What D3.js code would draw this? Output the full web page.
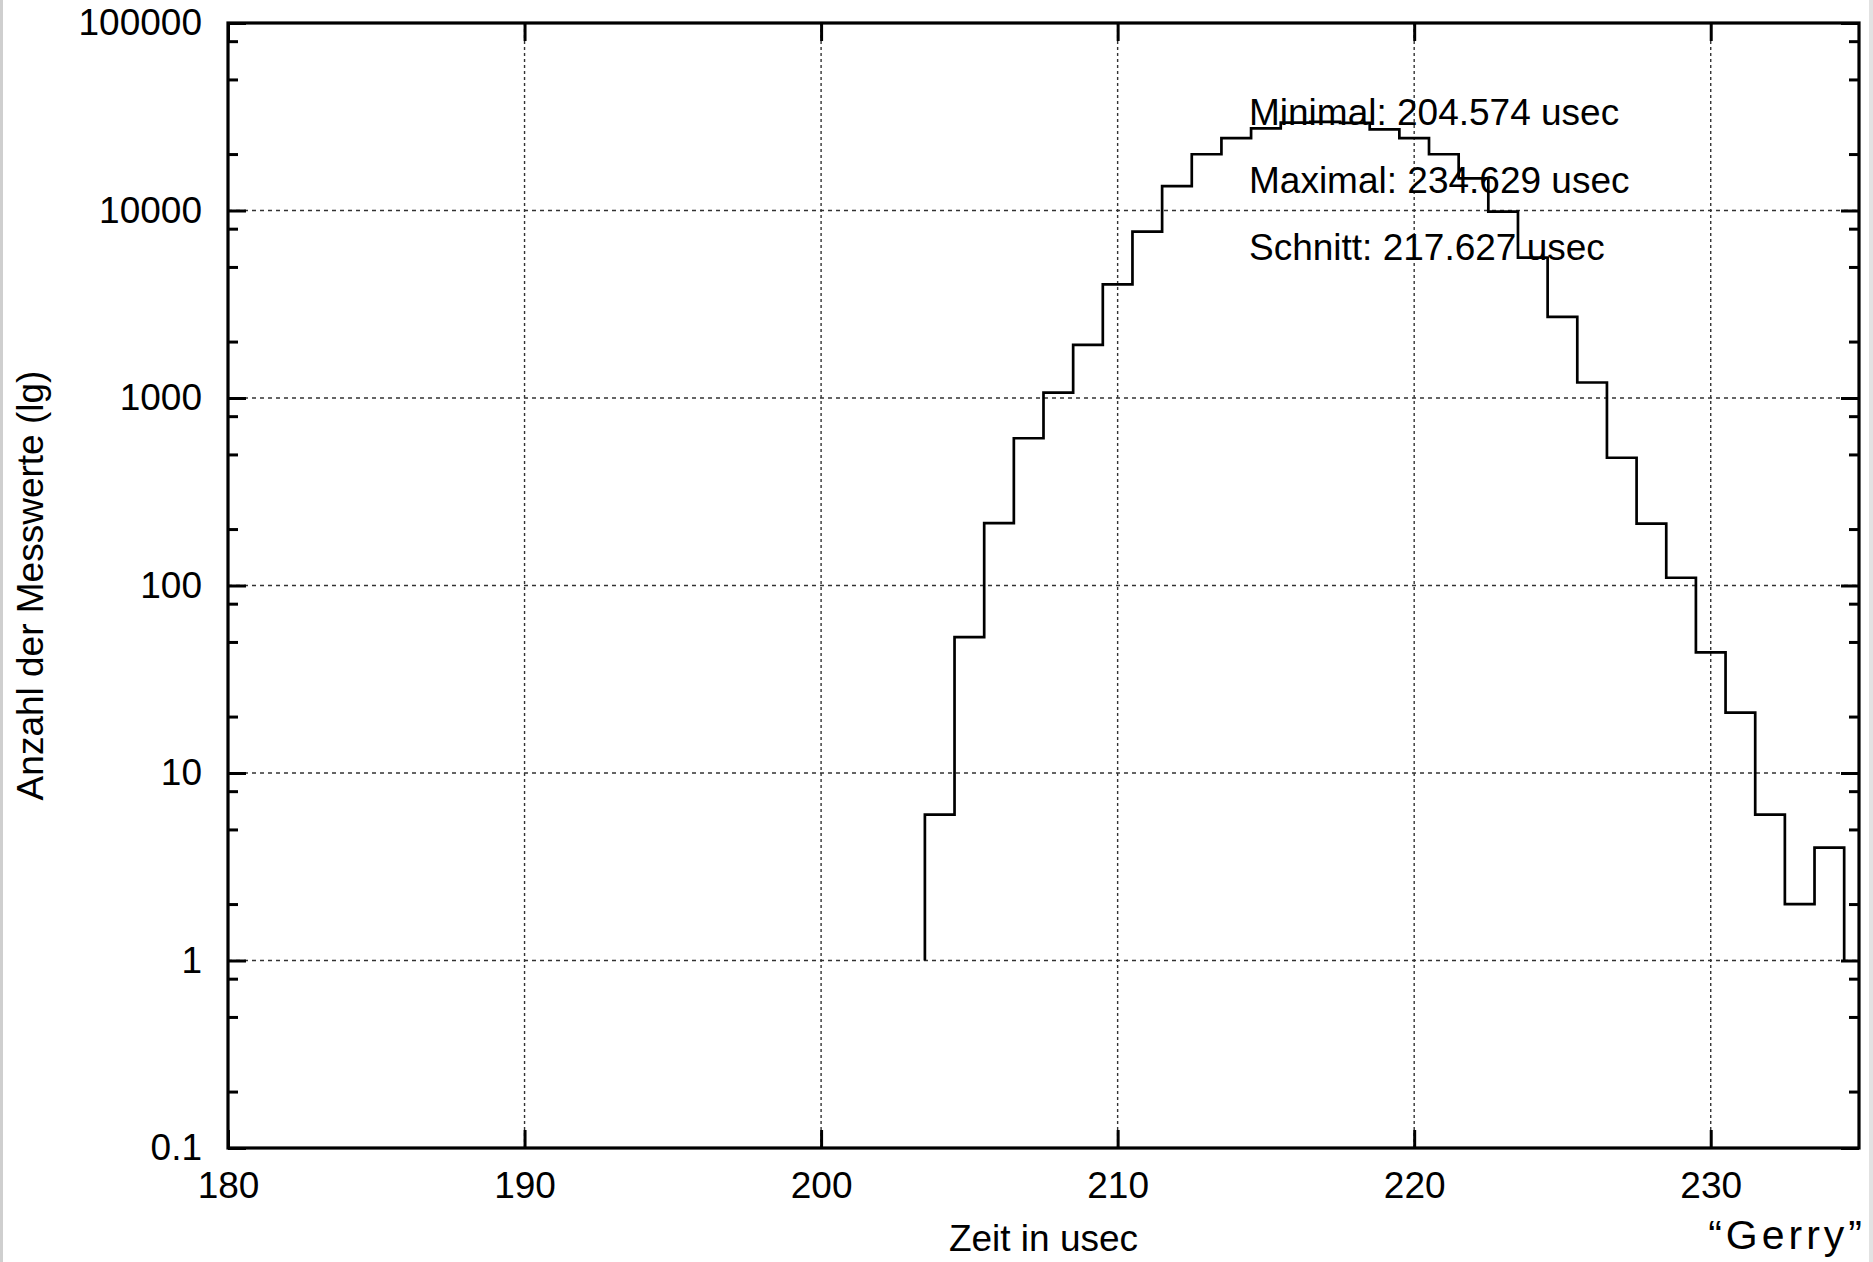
<!DOCTYPE html>
<html>
<head>
<meta charset="utf-8">
<script src="https://cdn.jsdelivr.net/npm/d3@7"></script>
<style>
    body { margin: 0; background: #ffffff; }
    svg  { display: block; }
    text { font-family: "Liberation Sans", Arial, Helvetica, sans-serif; fill: #000; }
</style>
</head>
<body>
<svg id="histo_plot" width="1873" height="1262"></svg>
<script>
// bin centres (usec) and counts per bin
const binCenters = [204, 205, 206, 207, 208, 209, 210, 211, 212, 213, 214,
                    215, 216, 217, 218, 219, 220, 221, 222, 223, 224,
                    225, 226, 227, 228, 229, 230, 231, 232, 233, 234];
const binCounts  = [6, 53, 215, 610, 1067, 1918, 4040, 7710, 13500, 19950, 24300,
                    27400, 29400, 29700, 29300, 27100, 24300, 19950, 14850, 9860, 5600,
                    2710, 1210, 480, 214, 110, 44, 21, 6, 2, 4];

const xTicks      = [180, 190, 200, 210, 220, 230];
const yTicks      = [0.1, 1, 10, 100, 1000, 10000, 100000];
const yTickLabels = ["0.1", "1", "10", "100", "1000", "10000", "100000"];
const yMinorTicks = [0.2, 0.5, 0.8, 2, 5, 8, 20, 50, 80, 200, 500, 800,
                     2000, 5000, 8000, 20000, 50000, 80000];
const xGrid       = [190, 200, 210, 220, 230];
const yGrid       = [1, 10, 100, 1000, 10000];

const statLines = ["Minimal: 204.574 usec", "Maximal: 234.629 usec", "Schnitt: 217.627 usec"];

const xAxisLabel = "Zeit in usec";
const yAxisLabel = "Anzahl der Messwerte (lg)";
const signature  = "\u201CGerry\u201D";

var target_svg    = d3.select("#histo_plot");
var target_width  = +target_svg.attr("width");
var target_height = +target_svg.attr("height");

var margin = { top    : 23,
               bottom : 114,
               left   : 228,
               right  : 14 };

var innerWidth  = target_width  - margin.left - margin.right;
var innerHeight = target_height - margin.top  - margin.bottom;

// faint grey frame at the picture edges
target_svg.append("rect")
    .attr("x", 0).attr("y", 0)
    .attr("width", 3).attr("height", target_height)
    .attr("fill", "#cfcfcf");
target_svg.append("rect")
    .attr("x", target_width - 4).attr("y", 0)
    .attr("width", 4).attr("height", target_height)
    .attr("fill", "#e2e2e2");

const chart = target_svg.append("g")
    .attr("transform", `translate(${margin.left},${margin.top})`);

const xScale = d3.scaleLinear()
    .domain([180, 235])
    .range([0, innerWidth]);

const yScale = d3.scaleLog()
    .domain([0.1, 100000])
    .range([innerHeight, 0]);

// grid lines
chart.selectAll(".grid_x").data(xGrid)
    .enter().append("line")
    .attr("class", "grid_x")
    .attr("x1", d => xScale(d)).attr("x2", d => xScale(d))
    .attr("y1", 0).attr("y2", innerHeight)
    .attr("stroke", "#333")
    .attr("stroke-width", 1.4)
    .attr("stroke-dasharray", "3,3");

chart.selectAll(".grid_y").data(yGrid)
    .enter().append("line")
    .attr("class", "grid_y")
    .attr("x1", 0).attr("x2", innerWidth)
    .attr("y1", d => yScale(d)).attr("y2", d => yScale(d))
    .attr("stroke", "#333")
    .attr("stroke-width", 1.4)
    .attr("stroke-dasharray", "4,4");

// axes, ticks pointing inwards
const AxisLeft = d3.axisLeft(yScale)
    .tickValues(yTicks)
    .tickFormat((d, i) => yTickLabels[i])
    .tickSize(-18)
    .tickPadding(26);

const AxisLeftMinor = d3.axisLeft(yScale)
    .tickValues(yMinorTicks)
    .tickFormat("")
    .tickSize(-10);

const AxisRight = d3.axisRight(yScale)
    .tickValues(yTicks)
    .tickFormat("")
    .tickSize(-18);

const AxisRightMinor = d3.axisRight(yScale)
    .tickValues(yMinorTicks)
    .tickFormat("")
    .tickSize(-10);

const AxisBottom = d3.axisBottom(xScale)
    .tickValues(xTicks)
    .tickSize(-18)
    .tickPadding(24);

const AxisTop = d3.axisTop(xScale)
    .tickValues(xTicks)
    .tickFormat("")
    .tickSize(-18);

const axes = [
    [AxisLeft,       "translate(0,0)"],
    [AxisLeftMinor,  "translate(0,0)"],
    [AxisRight,      `translate(${innerWidth},0)`],
    [AxisRightMinor, `translate(${innerWidth},0)`],
    [AxisBottom,     `translate(0,${innerHeight})`],
    [AxisTop,        "translate(0,0)"]
];

axes.forEach(([axis, tr]) =>
{
    const g = chart.append("g")
        .attr("transform", tr)
        .call(axis);
    g.selectAll(".domain").remove();
    g.selectAll(".tick line")
        .attr("stroke", "#000")
        .attr("stroke-width", 3);
    // mirror / minor axes carry no labels: drop the empty text nodes
    g.selectAll(".tick text")
        .filter(function() { return !this.textContent; })
        .remove();
    g.selectAll(".tick text")
        .attr("font-family", "Liberation Sans, Arial, sans-serif")
        .attr("font-size", 37)
        .attr("fill", "#000");
});

// frame
chart.append("rect")
    .attr("x", 0).attr("y", 0)
    .attr("width", innerWidth).attr("height", innerHeight)
    .attr("fill", "none")
    .attr("stroke", "#000")
    .attr("stroke-width", 3.2);

// histogram steps (histeps style, starting and ending at 1)
const halfBin = (binCenters[1] - binCenters[0]) / 2;
const stepPoints = [[binCenters[0] - halfBin, 1]];
binCenters.forEach((c, i) => stepPoints.push([c - halfBin, binCounts[i]]));
stepPoints.push([binCenters[binCenters.length - 1] + halfBin, 1]);

const stepLine = d3.line()
    .x(d => xScale(d[0]))
    .y(d => yScale(d[1]))
    .curve(d3.curveStepAfter);

chart.append("path")
    .datum(stepPoints)
    .attr("d", stepLine)
    .attr("fill", "none")
    .attr("stroke", "#000")
    .attr("stroke-width", 2.7);

// statistics text
chart.selectAll(".stat_text").data(statLines)
    .enter().append("text")
    .attr("class", "stat_text")
    .attr("x", 1249 - margin.left)
    .attr("y", (d, i) => 125 - margin.top + i * 67.5)
    .attr("font-size", 37)
    .text(d => d);

// axis labels
target_svg.append("text")
    .attr("x", margin.left + innerWidth / 2)
    .attr("y", 1251)
    .attr("text-anchor", "middle")
    .attr("font-size", 37)
    .text(xAxisLabel);

target_svg.append("text")
    .attr("transform", "rotate(-90)")
    .attr("x", -(margin.top + innerHeight / 2))
    .attr("y", 43)
    .attr("text-anchor", "middle")
    .attr("font-size", 37)
    .text(yAxisLabel);

// signature, thin and widely spaced
target_svg.append("text")
    .attr("x", 1866)
    .attr("y", 1249)
    .attr("text-anchor", "end")
    .attr("font-family", "'DejaVu Sans', Lato, sans-serif")
    .attr("font-weight", 200)
    .attr("font-size", 41)
    .attr("letter-spacing", 4)
    .attr("fill", "#222")
    .text(signature);
</script>
</body>
</html>
